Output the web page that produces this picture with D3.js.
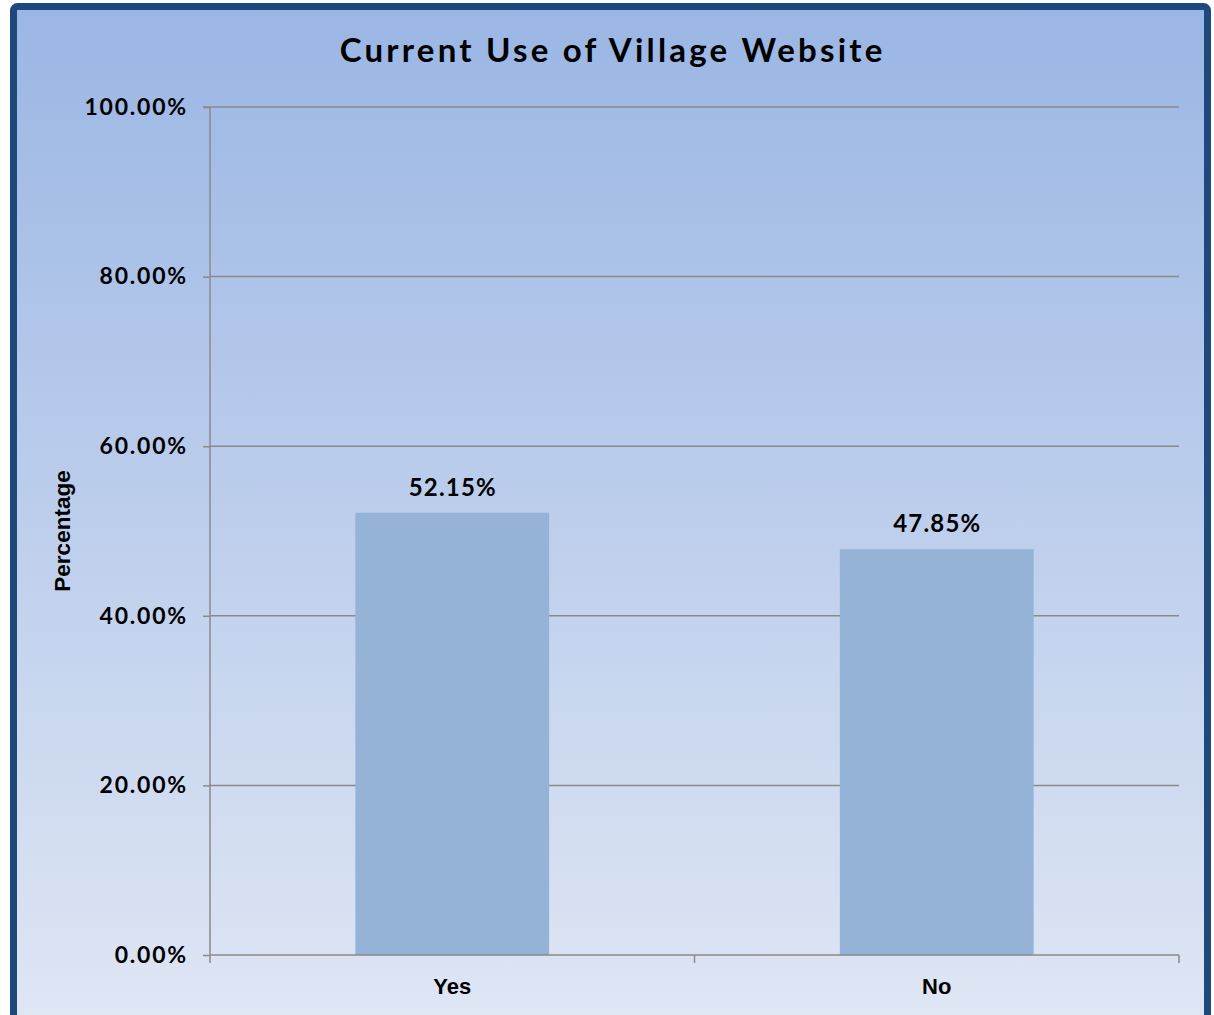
<!DOCTYPE html>
<html><head><meta charset="utf-8">
<script src="https://cdn.jsdelivr.net/npm/d3@7"></script>
<style>body{margin:0;background:#fff;}svg{display:block;}</style>
</head><body>
<script>
const categories = ["Yes", "No"];
const values = [52.15, 47.85];
const yTicks = [0, 20, 40, 60, 80, 100];
const title = "Current Use of Village Website";
const yLabel = "Percentage";

const W = 1214, H = 1015;
const svg = d3.select("body").append("svg").attr("width", W).attr("height", H);
const defs = svg.append("defs");
const grad = defs.append("linearGradient").attr("id","bg").attr("x1",0).attr("y1",0).attr("x2",0).attr("y2",1);
grad.append("stop").attr("offset","0%").attr("stop-color","#9ab6e4");
grad.append("stop").attr("offset","100%").attr("stop-color","#dfe6f4");

svg.append("rect").attr("x",13.5).attr("y",6.5).attr("width",1194).attr("height",1012)
  .attr("rx",4).attr("fill","url(#bg)").attr("stroke","#1f497d").attr("stroke-width",7);

const geo = "Lato, 'DejaVu Sans', sans-serif";
const ari = "'Liberation Sans', Arial, sans-serif";
const m = {left:210, right:1179, top:107, bottom:955};
const x = d3.scaleBand().domain(categories).range([m.left, m.right]).paddingInner(0.6).paddingOuter(0.3);
const xb = d3.scaleBand().domain(categories).range([m.left, m.right]);
const y = d3.scaleLinear().domain([0,100]).range([m.bottom, m.top]);

// gridlines
svg.append("g").selectAll("line").data(yTicks.filter(d=>d>0)).join("line")
  .attr("x1",m.left).attr("x2",m.right).attr("y1",d=>y(d)).attr("y2",d=>y(d))
  .attr("stroke","#8a8a8a").attr("stroke-width",1.5);

// bars
svg.append("g").selectAll("rect").data(values).join("rect")
  .attr("x",(d,i)=>x(categories[i])).attr("width",x.bandwidth())
  .attr("y",d=>y(d)).attr("height",d=>y(0)-y(d)).attr("fill","#95b3d7");

// y axis
const yAxis = d3.axisLeft(y).tickValues(yTicks).tickSize(7).tickPadding(15)
  .tickFormat(d=>d3.format(".2f")(d)+"%");
const gy = svg.append("g").attr("transform",`translate(${m.left},0)`).call(yAxis);
gy.select(".domain").attr("stroke","#8a8a8a").attr("stroke-width",1.5).attr("d",`M-7,${m.top}H0V${m.bottom}`);
gy.selectAll(".tick line").attr("stroke","#8a8a8a").attr("stroke-width",1.5);
gy.selectAll(".tick text").attr("font-family",geo).attr("font-weight","bold").attr("font-size",23)
  .attr("letter-spacing",1.8).attr("fill","#000");

// x axis
const gx = svg.append("g").attr("transform",`translate(0,${m.bottom})`);
gx.append("line").attr("x1",m.left).attr("x2",m.right).attr("stroke","#8a8a8a").attr("stroke-width",1.5);
const bounds = [m.left, ...categories.map(c=>xb(c)+xb.bandwidth())];
gx.selectAll("line.tk").data(bounds).join("line").attr("class","tk")
  .attr("x1",d=>d).attr("x2",d=>d).attr("y1",0).attr("y2",8).attr("stroke","#8a8a8a").attr("stroke-width",1.5);
gx.selectAll("text").data(categories).join("text")
  .attr("x",d=>xb(d)+xb.bandwidth()/2).attr("y",39).attr("text-anchor","middle")
  .attr("font-family",ari).attr("font-weight","bold").attr("font-size",22).text(d=>d);

// data labels
svg.append("g").selectAll("text").data(values).join("text")
  .attr("x",(d,i)=>x(categories[i])+x.bandwidth()/2+0.6).attr("y",d=>y(d)-17)
  .attr("text-anchor","middle").attr("font-family",geo).attr("font-weight","bold").attr("font-size",24)
  .attr("letter-spacing",1.2)
  .text(d=>d3.format(".2f")(d)+"%");

// title
svg.append("text").attr("x",612.6).attr("y",62).attr("text-anchor","middle")
  .attr("font-family",geo).attr("font-weight","bold").attr("font-size",33).attr("letter-spacing",3.2).text(title);

// y label
svg.append("text").attr("transform","translate(70,531) rotate(-90)").attr("text-anchor","middle")
  .attr("font-family",ari).attr("font-weight","bold").attr("font-size",22.5).text(yLabel);
</script>
</body></html>
